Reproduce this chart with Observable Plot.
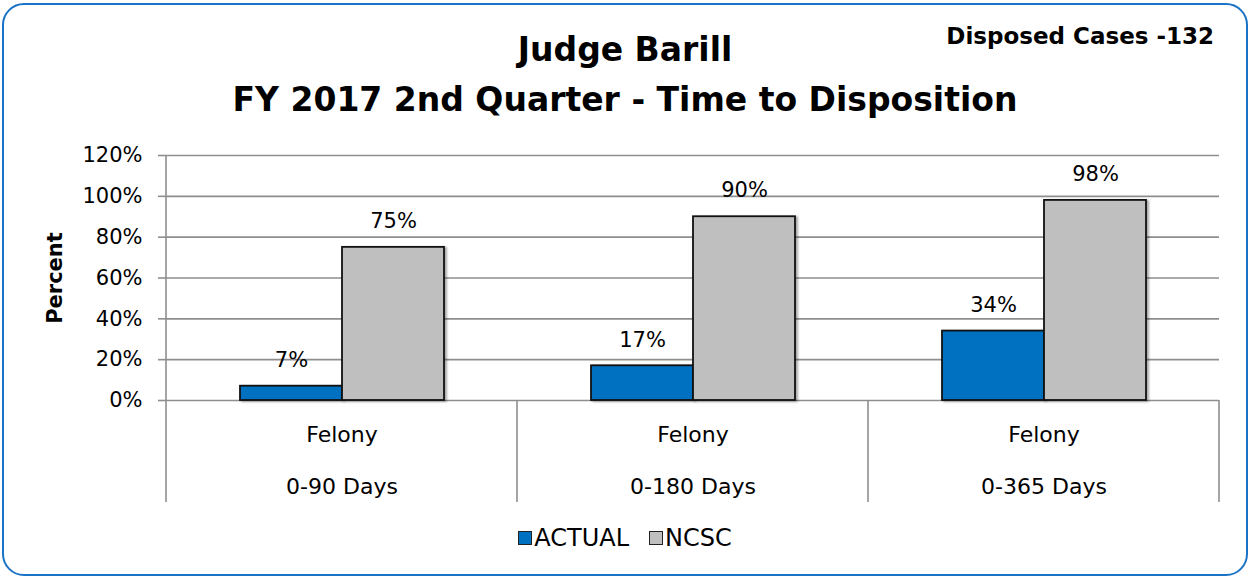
<!DOCTYPE html>
<html>
<head>
<meta charset="utf-8">
<script src="https://cdn.jsdelivr.net/npm/d3@7"></script>
<script src="https://cdn.jsdelivr.net/npm/@observablehq/plot@0.6"></script>
<style>
  html, body { margin: 0; padding: 0; background: #fff; }
  #wrap { position: relative; width: 1250px; height: 577px; font-family: "DejaVu Sans", sans-serif; color: #000; overflow: hidden; }
  #border { position: absolute; left: 2px; top: 3px; width: 1242px; height: 569px; border: 2px solid #1a73c6; border-radius: 22px; box-sizing: content-box; }
  .title { position: absolute; left: 0; width: 1250px; text-align: center; font-weight: bold; font-size: 33px; line-height: 1; }
  #sub { position: absolute; right: 36px; top: 25px; font-weight: bold; font-size: 23px; line-height: 1; }
  #ylab { position: absolute; left: 55px; top: 278px; transform: translate(-50%, -50%) rotate(-90deg); font-weight: bold; font-size: 21px; white-space: nowrap; line-height: 1; }
  #legend { position: absolute; left: 0; width: 1250px; top: 523px; text-align: center; font-size: 24px; line-height: 30px; }
  .sw { display: inline-block; width: 12px; height: 12px; border: 1.5px solid #222; margin-right: 2px; vertical-align: 1px; }
  .item { margin: 0 10px; }
  #chart { position: absolute; left: 0; top: 0; }
</style>
</head>
<body>
<div id="wrap">
  <div id="border"></div>
  <div class="title" id="t1" style="top:33px;">Judge Barill</div>
  <div class="title" id="t2" style="top:83px;">FY 2017 2nd Quarter - Time to Disposition</div>
  <div id="sub">Disposed Cases -132</div>
  <div id="ylab">Percent</div>
  <div id="chart"></div>
  <div id="legend"></div>
</div>
<script>
const caseType = "Felony";
const ranges = ["0-90 Days", "0-180 Days", "0-365 Days"];
const series = ["ACTUAL", "NCSC"];
const actual = [0.07, 0.17, 0.34];
const ncsc = [0.75, 0.90, 0.98];
const yTicks = [0, 0.2, 0.4, 0.6, 0.8, 1.0, 1.2];
const colors = ["#0070C0", "#BFBFBF"];

const data = [];
ranges.forEach((r, i) => {
  data.push({range: r, series: series[0], value: actual[i]});
  data.push({range: r, series: series[1], value: ncsc[i]});
});

const pct = d => Math.round(d * 100) + "%";
const gridColor = "#8e8e8e";

const chart = Plot.plot({
  width: 1250,
  height: 577,
  marginLeft: 165,
  marginRight: 30,
  marginTop: 155,
  marginBottom: 177,
  style: {fontFamily: "'DejaVu Sans', sans-serif", fontSize: "21px", color: "#000", background: "transparent"},
  fx: {domain: ranges, padding: 0, label: null},
  x: {domain: series, paddingInner: 0, paddingOuter: 0.72, axis: null},
  y: {domain: [0, 1.2], label: null},
  color: {domain: series, range: colors},
  marks: [
    Plot.gridY(yTicks, {stroke: gridColor, strokeOpacity: 1, strokeWidth: 1.6}),
    Plot.axisY(yTicks, {tickFormat: pct, tickSize: 8, tickPadding: 16, fontSize: 21, stroke: gridColor, strokeWidth: 1.6, label: null}),
    Plot.axisFx({anchor: "bottom", tickSize: 0, tickPadding: 5, fontSize: 22, lineHeight: 2.35, tickFormat: d => caseType + "\n" + d, label: null}),
    Plot.barY(data, {fx: "range", x: "series", y: "value", fill: "series", stroke: "#111", strokeWidth: 1.8, inset: 0}),
    Plot.text(data, {fx: "range", x: "series", y: "value", text: d => pct(d.value), dy: -26, fontSize: 21})
  ]
});

document.getElementById("chart").appendChild(chart);

// category separators below the axis, drawn from the plot's own scales
const fx = chart.scale("fx");
const y = chart.scale("y");
const sepLen = 102;
const svg = d3.select(chart);
const y0 = y.apply(0);
const bounds = ranges.map(r => fx.apply(r)).concat([fx.apply(ranges[ranges.length - 1]) + fx.bandwidth]);
bounds.forEach((bx, i) => {
  svg.append("line")
    .attr("x1", bx).attr("x2", bx)
    .attr("y1", i === 0 ? y.apply(1.2) : y0)
    .attr("y2", y0 + sepLen)
    .attr("stroke", gridColor).attr("stroke-width", 1.6);
});
// bar shadows
svg.selectAll("g[aria-label='bar'] rect").style("filter", "drop-shadow(2px 1px 1px rgba(0,0,0,0.35))");

// legend
const legend = d3.select("#legend");
series.forEach((s, i) => {
  const item = legend.append("span").attr("class", "item");
  item.append("span").attr("class", "sw").style("background", colors[i]);
  item.append("span").text(s);
});
</script>
</body>
</html>
